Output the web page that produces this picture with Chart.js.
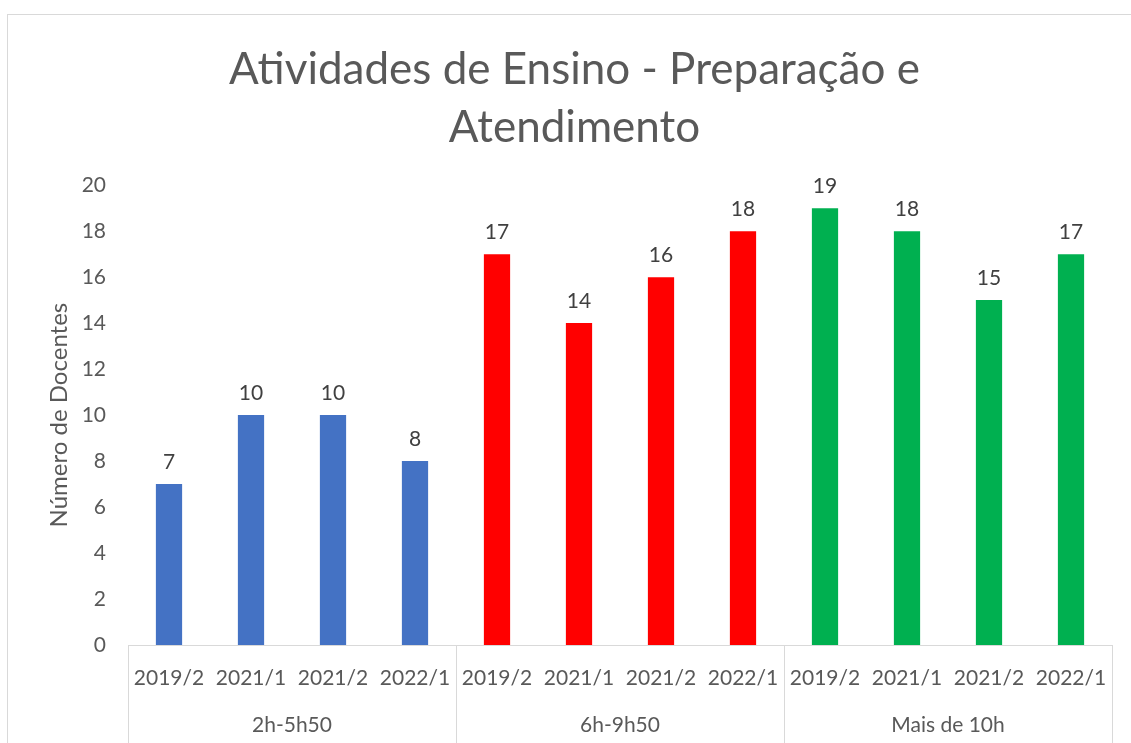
<!DOCTYPE html>
<html>
<head>
<meta charset="utf-8">
<script src="https://cdn.jsdelivr.net/npm/chart.js@4/dist/chart.umd.min.js"></script>
<style>
  html, body { margin: 0; padding: 0; background: #fff; }
  #wrap { position: relative; width: 1131px; height: 743px; }
</style>
</head>
<body>
<div id="wrap"><canvas id="chart" width="1131" height="743"></canvas></div>
<script>
const periods = ['2019/2', '2021/1', '2021/2', '2022/1'];
const groups = ['2h-5h50', '6h-9h50', 'Mais de 10h'];
const groupColors = ['#4472C4', '#FF0000', '#00B050'];
const docentes = [7, 10, 10, 8, 17, 14, 16, 18, 19, 18, 15, 17];

const labels = [];
const barColors = [];
groups.forEach((g, gi) => {
  periods.forEach(p => {
    labels.push(p);
    barColors.push(groupColors[gi]);
  });
});

const FONT = 'Lato, Calibri, "Open Sans", sans-serif';
const TXT = '#595959';

// outer frame, group separators, group names, value labels
const extras = {
  id: 'extras',
  beforeDraw(chart) {
    const ctx = chart.ctx;
    ctx.save();
    ctx.fillStyle = '#fff';
    ctx.fillRect(0, 0, chart.width, chart.height);
    ctx.strokeStyle = '#d9d9d9';
    ctx.lineWidth = 1;
    ctx.strokeRect(7.5, 14.5, chart.width + 20, chart.height + 20);
    ctx.restore();
  },
  afterDraw(chart) {
    const ctx = chart.ctx;
    const area = chart.chartArea;
    const step = (area.right - area.left) / labels.length;
    ctx.save();
    ctx.strokeStyle = '#d9d9d9';
    ctx.lineWidth = 1;
    ctx.beginPath();
    ctx.moveTo(area.left, area.bottom + 0.5);
    ctx.lineTo(area.right, area.bottom + 0.5);
    for (let i = 0; i <= groups.length; i++) {
      const px = Math.round(area.left + i * periods.length * step) + 0.5;
      ctx.moveTo(px, area.bottom);
      ctx.lineTo(px, chart.height);
    }
    ctx.stroke();

    ctx.fillStyle = TXT;
    ctx.font = '21px ' + FONT;
    ctx.textAlign = 'center';
    ctx.textBaseline = 'middle';
    groups.forEach((g, gi) => {
      const cx = area.left + (gi * periods.length + periods.length / 2) * step;
      ctx.fillText(g, cx, 725);
    });

    ctx.fillStyle = '#404040';
    ctx.textBaseline = 'alphabetic';
    const meta = chart.getDatasetMeta(0);
    meta.data.forEach((bar, i) => {
      ctx.fillText(String(docentes[i]), bar.x, bar.y - 15);
    });
    ctx.restore();
  }
};

new Chart(document.getElementById('chart').getContext('2d'), {
  type: 'bar',
  data: {
    labels: labels,
    datasets: [{
      label: 'Número de Docentes',
      data: docentes,
      backgroundColor: barColors,
      borderWidth: 0,
      categoryPercentage: 1,
      barPercentage: 0.32
    }]
  },
  options: {
    responsive: false,
    animation: false,
    layout: { padding: { left: 37, right: 19, top: 0, bottom: 0 } },
    plugins: {
      legend: { display: false },
      tooltip: { enabled: false },
      title: {
        display: true,
        text: ['Atividades de Ensino - Preparação e', 'Atendimento'],
        color: TXT,
        font: { family: FONT, size: 44, weight: 'normal', lineHeight: 1.32 },
        padding: { top: 41, bottom: 28 }
      }
    },
    scales: {
      x: {
        grid: { display: false, drawTicks: false },
        border: { display: false },
        ticks: {
          color: TXT,
          font: { family: FONT, size: 21 },
          padding: 21,
          maxRotation: 0,
          autoSkip: false
        },
        afterFit(s) { s.height = 98; }
      },
      y: {
        min: 0,
        max: 20,
        grid: { display: false, drawTicks: false },
        border: { display: false },
        ticks: {
          stepSize: 2,
          color: TXT,
          font: { family: FONT, size: 21 },
          padding: 22
        },
        title: {
          display: true,
          text: 'Número de Docentes',
          color: TXT,
          font: { family: FONT, size: 24 },
          padding: { top: 8, bottom: 0 }
        },
        afterFit(s) { s.width = 91; }
      }
    }
  },
  plugins: [extras]
});
</script>
</body>
</html>
